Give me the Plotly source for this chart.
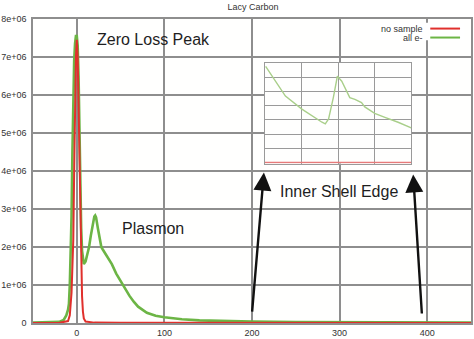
import plotly.graph_objects as go

# EELS spectrum of lacy carbon: energy loss (eV) vs counts
energy_all = [-50, -30, -20, -15, -12, -10, -9, -8, -7, -6, -5, -4, -3, -2, -1, 0, 1, 2,
              3, 4, 5, 6, 7, 8, 10, 12, 14, 16, 18, 20, 21, 22, 24, 26, 28, 30, 32, 35,
              40, 45, 50, 55, 60, 65, 70, 80, 90, 100, 120, 140, 160, 180, 200, 250,
              300, 350, 400, 450]
counts_all = [0.01e6, 0.015e6, 0.03e6, 0.08e6, 0.2e6, 0.35e6, 0.5e6, 1.0e6, 1.7e6,
              2.8e6, 4.5e6, 6.0e6, 6.9e6, 7.35e6, 7.55e6, 7.55e6, 7.3e6, 6.5e6,
              5.0e6, 3.5e6, 2.5e6, 1.9e6, 1.6e6, 1.55e6, 1.62e6, 1.78e6,
              2.0e6, 2.3e6, 2.6e6, 2.8e6, 2.83e6, 2.78e6, 2.5e6, 2.2e6, 2.0e6, 1.92e6,
              1.85e6, 1.75e6, 1.55e6, 1.3e6, 1.1e6, 0.9e6, 0.72e6, 0.56e6,
              0.43e6, 0.27e6, 0.19e6, 0.15e6, 0.1e6, 0.07e6, 0.055e6, 0.045e6,
              0.035e6, 0.025e6, 0.02e6, 0.015e6, 0.012e6, 0.01e6]

energy_blank = [-50, -20, -10, -8, -6, -5, -4, -3, -2, -1, 0, 1, 2, 3, 4, 5, 6, 7, 8,
                10, 15, 20, 50, 100, 450]
counts_blank = [0.0, 0.005e6, 0.05e6, 0.2e6, 0.8e6, 1.4e6, 2.2e6, 4.0e6, 5.8e6, 7.0e6,
                7.45e6, 7.0e6, 5.8e6, 4.2e6, 2.6e6, 1.5e6, 0.7e6, 0.3e6, 0.12e6,
                0.04e6, 0.015e6, 0.01e6, 0.005e6, 0.003e6, 0.002e6]

# magnified view of the core-loss edge (arbitrary inset units)
edge_x = [0.02, 0.29, 0.56, 1.01, 1.28, 1.56, 1.65, 1.74, 1.87, 1.98, 2.10, 2.32,
          2.46, 2.64, 2.73, 3.0, 3.28, 3.64, 4.0]
edge_all = [6.75, 5.71, 4.67, 3.75, 3.28, 2.83, 2.71, 3.06, 4.56, 6.06, 5.71, 4.56,
            4.44, 4.21, 3.91, 3.45, 3.17, 2.83, 2.43]
edge_blank_x = [0, 4]
edge_blank = [0, 0]

y_tick_vals = [0, 1e6, 2e6, 3e6, 4e6, 5e6, 6e6, 7e6, 8e6]
y_tick_text = ["0", "1e+06", "2e+06", "3e+06", "4e+06", "5e+06", "6e+06", "7e+06", "8e+06"]
x_tick_vals = [0, 100, 200, 300, 400]

RED = "#e0302c"
GREEN = "#6cb545"
GRID = "#8e8e8e"
FONT = "Liberation Sans, Arial, sans-serif"

fig = go.Figure()
fig.add_trace(go.Scatter(x=energy_all, y=counts_all, mode="lines", name="all e-",
                         line=dict(color=GREEN, width=2.6), showlegend=False))
fig.add_trace(go.Scatter(x=energy_blank, y=counts_blank, mode="lines", name="no sample",
                         line=dict(color=RED, width=2), showlegend=False))
fig.add_trace(go.Scatter(x=edge_blank_x, y=edge_blank, mode="lines", xaxis="x2", yaxis="y2",
                         line=dict(color="#e67a7a", width=1.5), showlegend=False))
fig.add_trace(go.Scatter(x=edge_x, y=edge_all, mode="lines", xaxis="x2", yaxis="y2",
                         line=dict(color="#a9cf8a", width=1.4), showlegend=False))

axis_font = dict(family=FONT, size=9, color="#333")
label_font = dict(family=FONT, size=16, color="#1e1e1e")

fig.update_layout(
    width=474, height=339,
    margin=dict(l=33, r=1, t=19, b=15),
    paper_bgcolor="#ffffff",
    plot_bgcolor="#fffffe",
    title=dict(text="Lacy Carbon", x=0.534, xanchor="center", y=0.988, yanchor="top",
               font=dict(family=FONT, size=9, color="#333")),
    xaxis=dict(range=[-50, 450], tickvals=x_tick_vals, showgrid=True, gridcolor=GRID,
               gridwidth=1.5, zeroline=False, showline=True, linecolor=GRID, linewidth=1.5,
               mirror=True, ticks="", tickfont=axis_font, ticklabelstandoff=0),
    yaxis=dict(range=[0, 8e6], tickvals=y_tick_vals, ticktext=y_tick_text, showgrid=True,
               gridcolor=GRID, gridwidth=1.5, zeroline=False, showline=True, linecolor=GRID,
               linewidth=1.5, mirror=True, ticks="", tickfont=axis_font, ticklabelstandoff=3),
    xaxis2=dict(domain=[0.5295, 0.8636], anchor="y2", range=[0, 4], dtick=1,
                showgrid=True, gridcolor="#9a9a9a", gridwidth=1, zeroline=False,
                showline=True, linecolor="#9a9a9a", linewidth=1, mirror=True,
                showticklabels=False, ticks="", layer="below traces"),
    yaxis2=dict(domain=[0.5246, 0.8557], anchor="x2", range=[-0.07, 7], dtick=1,
                showgrid=True, gridcolor="#9a9a9a", gridwidth=1, zeroline=False,
                showline=True, linecolor="#9a9a9a", linewidth=1, mirror=True,
                showticklabels=False, ticks="", layer="below traces"),
)

# key box with text on the left and line sample on the right
fig.add_shape(type="rect", xref="paper", yref="paper", x0=0.77, x1=0.985, y0=0.93, y1=0.988,
              fillcolor="white", line_width=0, layer="above")
fig.add_shape(type="line", xref="paper", yref="paper", x0=0.907, x1=0.975, y0=0.9685, y1=0.9685,
              line=dict(color=RED, width=2), layer="above")
fig.add_shape(type="line", xref="paper", yref="paper", x0=0.907, x1=0.975, y0=0.939, y1=0.939,
              line=dict(color=GREEN, width=2), layer="above")
legend_font = dict(family=FONT, size=9, color="#333")
fig.add_annotation(xref="paper", yref="paper", x=0.895, y=0.9685, text="no sample",
                   showarrow=False, xanchor="right", yanchor="middle", font=legend_font)
fig.add_annotation(xref="paper", yref="paper", x=0.895, y=0.939, text="all e-",
                   showarrow=False, xanchor="right", yanchor="middle", font=legend_font)

# feature labels
fig.add_annotation(x=87.5, y=7.45e6, text="Zero Loss Peak", showarrow=False, font=label_font)
fig.add_annotation(x=87.5, y=2.49e6, text="Plasmon", showarrow=False, font=label_font)
fig.add_annotation(x=299, y=3.46e6, text="Inner Shell Edge", showarrow=False, font=label_font)

# arrows pointing to the inset edges
for tip_x, tip_y, tail_x, tail_y in [(213.6, 3.96e6, 200, 0.26e6), (384, 3.91e6, 394, 0.21e6)]:
    fig.add_annotation(x=tip_x, y=tip_y, ax=tail_x, ay=tail_y, axref="x", ayref="y",
                       xref="x", yref="y", text="", showarrow=True, arrowhead=2,
                       arrowsize=1.5, arrowwidth=2.4, arrowcolor="#111")

fig.write_html("out.html")
